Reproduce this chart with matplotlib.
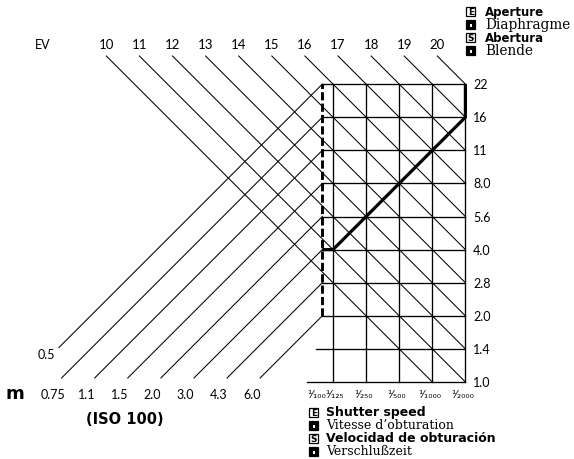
import numpy as np
import matplotlib
matplotlib.use("Agg")
import matplotlib.pyplot as plt
from matplotlib.patches import Rectangle

# ---------------- data ----------------
ev_values = list(range(10, 21))
shutter_speeds = [100, 125, 250, 500, 1000, 2000]
shutter_labels = ['¹⁄₁₀₀', '¹⁄₁₂₅', '¹⁄₂₅₀', '¹⁄₅₀₀', '¹⁄₁₀₀₀', '¹⁄₂₀₀₀']
apertures = [1.0, 1.4, 2.0, 2.8, 4.0, 5.6, 8.0, 11, 16, 22]
aperture_labels = ['1.0', '1.4', '2.0', '2.8', '4.0', '5.6', '8.0', '11', '16', '22']
distances_m = [0.5, 0.75, 1.1, 1.5, 2.0, 3.0, 4.3, 6.0]
distance_labels = ['0.5', '0.75', '1.1', '1.5', '2.0', '3.0', '4.3', '6.0']
distance_aperture_at_sync = [22, 16, 11, 8.0, 5.6, 4.0, 2.8, 2.0]
program_shutter = [100, 125, 2000, 2000]
program_aperture = [4.0, 4.0, 16, 22]
sync_speed = 100
sync_aperture_range = [2.0, 22]
top_legend = [('E', 'Aperture'), ('F', 'Diaphragme'), ('S', 'Abertura'), ('D', 'Blende')]
bottom_legend = [('E', 'Shutter speed'), ('F', "Vitesse d’obturation"),
                 ('S', 'Velocidad de obturación'), ('D', 'Verschlußzeit')]

# ---------------- scales ----------------
PX = 33.1                 # pixels per stop
X0, Y0 = 333, 383         # pixel position of 1/125, f1.0
W, H = 574, 460


def tx(s):                # shutter -> stops relative to 1/125
    return np.log2(s / 125.0)


def ay(n):                # aperture -> stop index
    return float(apertures.index(n))


def px_x(p):
    return (p - X0) / PX


def px_y(p):
    return (Y0 - p) / PX


fig = plt.figure(figsize=(W / 100, H / 100), dpi=100)
ax = fig.add_axes([0, 0, 1, 1])
ax.set_xlim(px_x(0), px_x(W))
ax.set_ylim(px_y(H), px_y(0))
ax.set_aspect('equal')
ax.axis('off')

NUMFONT = 'Lato'
thin = 0.75
gridw = 0.95

# ---------------- grid ----------------
xr = tx(shutter_speeds[-1])
xs = tx(sync_speed)
for s in shutter_speeds[1:]:
    ax.plot([tx(s), tx(s)], [ay(apertures[0]), ay(apertures[-1])], color='black', lw=gridw)
for n in apertures:
    start = xs - ((0.45 if n == apertures[0] else 0.2) if n < sync_aperture_range[0] else 0.0)
    ax.plot([start, xr], [ay(n), ay(n)], color='black', lw=gridw)

# ---------------- EV lines ----------------
top_y = px_y(57)
for k in ev_values:
    x_start = k - 7 - top_y
    x_end = min(xr, k - 7)
    y_end = k - 7 - x_end
    ax.plot([x_start, x_end], [top_y, y_end], color='black', lw=thin)
    ax.text(x_start, px_y(45), str(k), ha='center', va='center', fontsize=9.5,
            family=NUMFONT)
ax.text(px_x(43), px_y(45), 'EV', ha='center', va='center', fontsize=9, family=NUMFONT)

# ---------------- distance lines ----------------
x_min = px_x(59)
y_min = px_y(379)
for i, (d, lab, n) in enumerate(zip(distances_m, distance_labels, distance_aperture_at_sync)):
    ye = ay(n)
    x0 = xs - (ye - y_min)
    if x0 < x_min:
        x0 = x_min
    y0 = ye - (xs - x0)
    ax.plot([x0, xs], [y0, ye], color='black', lw=thin)
    if y0 > y_min + 0.01:
        ax.text(x0 - 0.12, y0 - 0.2, lab, ha='right', va='center', fontsize=9,
                family=NUMFONT)
    else:
        ax.text(x0 - 0.25, px_y(395), lab, ha='center', va='center', fontsize=9,
                family=NUMFONT)

ax.text(px_x(15), px_y(394), 'm', ha='center', va='center', fontsize=13,
        fontweight='bold', family='DejaVu Sans')
ax.text(px_x(125), px_y(420), '(ISO 100)', ha='center', va='center', fontsize=10.5,
        fontweight='bold', family='DejaVu Sans')

# ---------------- sync (dashed) line and program line ----------------
ax.plot([xs, xs], [ay(sync_aperture_range[0]), ay(sync_aperture_range[1])],
        color='black', lw=2.1, ls=(0, (2.8, 1.1)), solid_capstyle='butt')
ax.plot([tx(s) for s in program_shutter], [ay(n) for n in program_aperture],
        color='black', lw=2.3, solid_joinstyle='miter', solid_capstyle='butt')

# ---------------- axis labels ----------------
for n, lab in zip(apertures, aperture_labels):
    ax.text(xr + 0.23, ay(n), lab, ha='left', va='center', fontsize=9, family=NUMFONT)

for s, lab in zip(shutter_speeds, shutter_labels):
    x = tx(s) - 0.08
    ha = 'center'
    if s == 100:
        x = tx(s) + 0.12
        ha = 'right'
    elif s == 125:
        x = tx(s) - 0.22
        ha = 'left'
    ax.text(x, px_y(395), lab, ha=ha, va='center', fontsize=7.5, family='DejaVu Sans')


# ---------------- legends ----------------
def icon(xc, yc, code):
    size = 9.0 / PX
    x, y = px_x(xc) - size / 2, px_y(yc) - size / 2
    if code in ('E', 'S'):
        ax.add_patch(Rectangle((x, y), size, size, fc='white', ec='black', lw=0.9))
        ax.text(px_x(xc), px_y(yc) - 0.01, code, ha='center', va='center', fontsize=6.5,
                fontweight='bold', family='DejaVu Sans', color='black')
    else:
        ax.add_patch(Rectangle((x, y), size, size, fc='black', ec='black', lw=0.9))
        ax.add_patch(Rectangle((px_x(xc) - 0.5 / PX, px_y(yc) - 2.5 / PX), 1.2 / PX, 2.2 / PX,
                               fc='white', ec='none'))


def legend(items, x_icon, x_text, ys, sans_size, serif_size):
    for (code, text), y in zip(items, ys):
        icon(x_icon, y, code)
        if code in ('E', 'S'):
            ax.text(px_x(x_text), px_y(y), text, ha='left', va='center', fontsize=sans_size,
                    fontweight='bold', family='DejaVu Sans')
        else:
            ax.text(px_x(x_text), px_y(y), text, ha='left', va='center', fontsize=serif_size,
                    family='DejaVu Serif')


legend(top_legend, 471, 485, [12, 25, 38, 51], 8.5, 9.8)
legend(bottom_legend, 314, 326, [413, 426, 439, 452], 9, 9)

fig.savefig('out.png', dpi=100, facecolor='white')
